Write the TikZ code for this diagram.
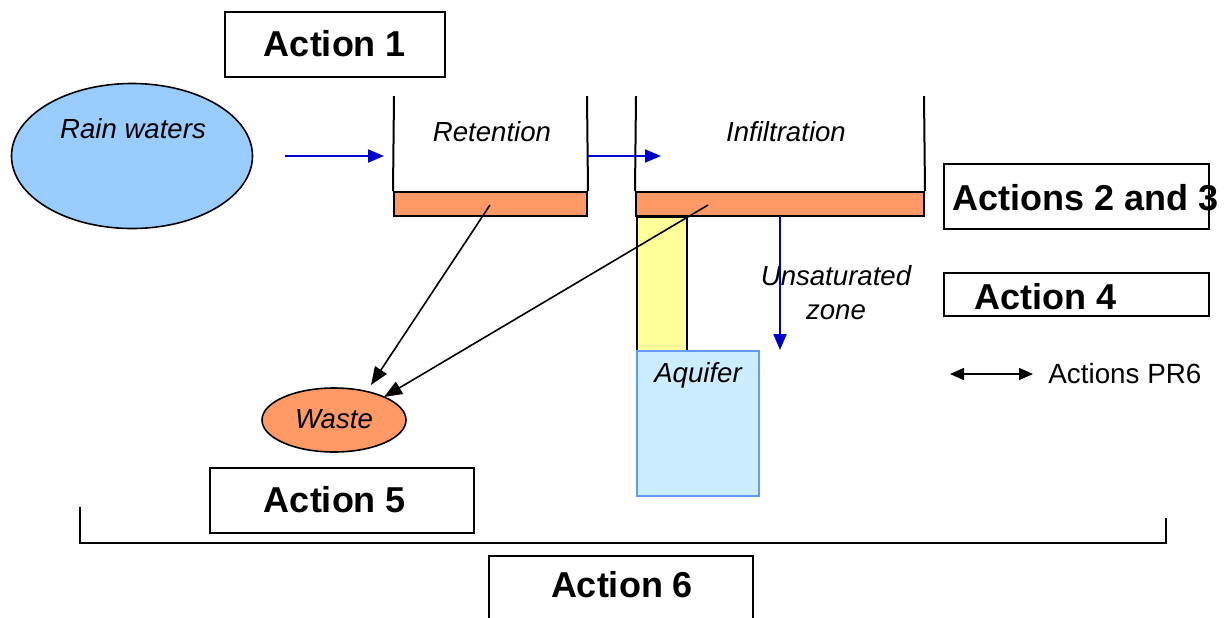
\documentclass[tikz,border=0pt]{standalone}
\usepackage{fontspec}
\setmainfont{Liberation Sans}
\usetikzlibrary{arrows.meta,shapes.geometric}
\definecolor{barorange}{HTML}{FF9966}
\definecolor{rainblue}{HTML}{99CCFF}
\definecolor{soilyellow}{HTML}{FFFF99}
\definecolor{aqfill}{HTML}{CCECFF}
\definecolor{aqedge}{HTML}{6699FF}
\definecolor{flowblue}{HTML}{0000CC}
\tikzset{
  actionbox/.style={draw=black, line width=1pt, fill=white},
  actiontext/.style={font=\fontsize{18}{21}\selectfont\bfseries, inner sep=0pt},
  itlabel/.style={font=\fontsize{13.8}{17}\selectfont\itshape, inner sep=0pt},
  wall/.style={draw=black, line width=1pt},
  bar/.style={draw=black, line width=1pt, fill=barorange},
  flow/.style={draw=flowblue, line width=1pt, -{Triangle[length=8pt,width=6.5pt]}},
  waste/.style={draw=black, line width=0.8pt, -{Triangle[length=9pt,width=7pt]}},
}
\begin{document}
\begin{tikzpicture}[x=0.5pt, y=-0.5pt]
\useasboundingbox (0,0) rectangle (1226,617);
\clip (0,0) rectangle (1226,617);

% action boxes
\draw[actionbox] (225,12) rectangle (445,77);
\node[actiontext] (a1) at (335,44) {Action 1};
\draw[actionbox] (944,164) rectangle (1209,229);
\node[actiontext, anchor=west] (a23) at (952,198) {Actions 2 and 3};
\draw[actionbox] (944,273) rectangle (1209,316);
\node[actiontext, anchor=west] (a4) at (974,297) {Action 4};
\draw[actionbox] (210,468) rectangle (474,533);
\node[actiontext] (a5) at (335,500) {Action 5};
\draw[actionbox] (489,640) -- (489,556) -- (753,556) -- (753,640);
\node[actiontext] (a6) at (622,585) {Action 6};

% rain source
\node[ellipse, draw=black, line width=0.8pt, fill=rainblue,
      minimum width=120.5pt, minimum height=72.5pt, inner sep=0pt] (rain) at (132,156) {};
\node[itlabel] (raintxt) at (133,129) {Rain waters};

% retention basin
\node[bar, minimum width=96.5pt, minimum height=12pt, inner sep=0pt] (rbar) at (490.5,204) {};
\draw[wall] (394,96) -- (rbar.north west);
\draw[wall] (587,96) -- (rbar.north east);
\node[itlabel] (rtxt) at (492,132) {Retention};

% infiltration basin
\node[bar, minimum width=144pt, minimum height=12pt, inner sep=0pt] (ibar) at (780,204) {};
\draw[wall] (636,96) -- (ibar.north west);
\draw[wall] (924,96) -- (ibar.north east);
\node[itlabel] (itxt) at (786,132) {Infiltration};

% unsaturated zone and aquifer
\node[draw=black, line width=1pt, fill=soilyellow, minimum width=25pt, minimum height=67pt,
      inner sep=0pt, anchor=north west] (soil) at (636,216) {};
\node[draw=aqedge, line width=1pt, fill=aqfill, minimum width=61pt, minimum height=72.5pt,
      inner sep=0pt, anchor=north west] (aq) at (636,350) {};
\node[itlabel] (aqtxt) at (698,375) {Aquifer};
\node[itlabel, align=center] (utxt) at (836,293) {Unsaturated\\zone};

% waste
\node[ellipse, draw=black, line width=0.8pt, fill=barorange, minimum width=72pt,
      minimum height=32pt, inner sep=0pt] (waste) at (334,420) {};
\node[itlabel] (wtxt) at (334,419) {Waste};

% water flows
\coordinate (rainout) at (285,156);
\coordinate (retin) at (384,156);
\coordinate (retout) at (587,156);
\coordinate (infin) at (661,156);
\coordinate (perc) at (780,216);
\coordinate (percend) at (780,350);
\draw[flow] (rainout) -- (retin);
\draw[flow] (retout) -- (infin);
\draw[flow] (perc) -- (percend);

% transfers to waste
\coordinate (rsrc) at (490,205);
\coordinate (isrc) at (708,205);
\coordinate (wtip1) at (371,385);
\coordinate (wtip2) at (384,397);
\draw[waste] (rsrc) -- (wtip1);
\draw[waste] (isrc) -- (wtip2);

% legend
\coordinate (lgl) at (950,374);
\coordinate (lgr) at (1033,374);
\draw[line width=0.8pt, {Triangle[length=7pt,width=6pt]}-{Triangle[length=7pt,width=6pt]}] (lgl) -- (lgr);
\node[font=\fontsize{13.9}{17}\selectfont, inner sep=0pt, anchor=west] (lgtxt) at (1048,374) {Actions PR6};

% overall bracket
\coordinate (bl) at (80,507);
\coordinate (br) at (1166,518);
\draw[line width=1pt] (bl) -- (80,543) -- (1166,543) -- (br);
\end{tikzpicture}
\end{document}
